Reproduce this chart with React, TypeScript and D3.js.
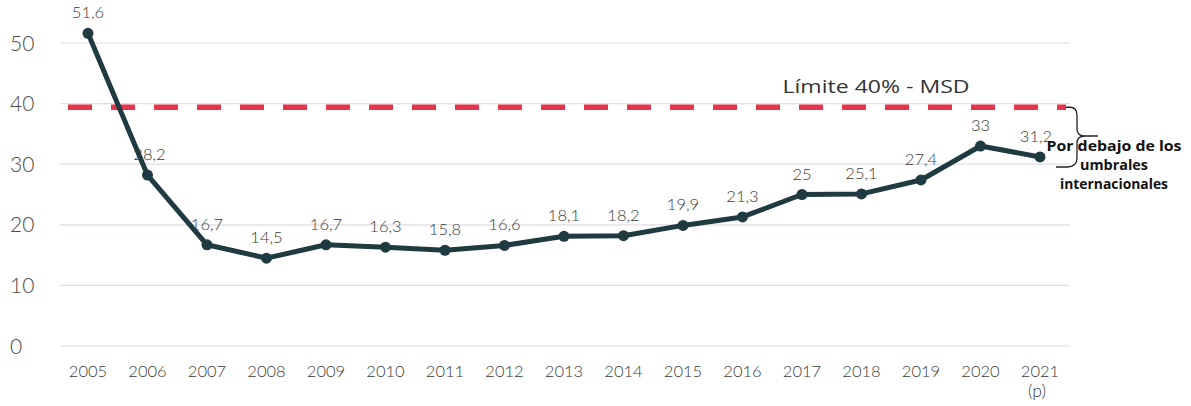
import React from "react";
import * as d3 from "d3";

const years = [2005, 2006, 2007, 2008, 2009, 2010, 2011, 2012, 2013, 2014, 2015, 2016, 2017, 2018, 2019, 2020, 2021];
const yearLabels = ["2005", "2006", "2007", "2008", "2009", "2010", "2011", "2012", "2013", "2014", "2015", "2016", "2017", "2018", "2019", "2020", "2021"];
const values = [51.6, 28.2, 16.7, 14.5, 16.7, 16.3, 15.8, 16.6, 18.1, 18.2, 19.9, 21.3, 25, 25.1, 27.4, 33, 31.2];
const valueLabels = ["51,6", "28,2", "16,7", "14,5", "16,7", "16,3", "15,8", "16,6", "18,1", "18,2", "19,9", "21,3", "25", "25,1", "27,4", "33", "31,2"];
const yTicks = [0, 10, 20, 30, 40, 50];
const limitValue = 39.4;
const limitLabel = "Límite 40% - MSD";
const noteLines = ["Por debajo de los", "umbrales", "internacionales"];

export default function App() {
  const W = 1191, H = 406;
  const x = d3.scaleLinear().domain([2005, 2021]).range([88, 1040]);
  const y = d3.scaleLinear().domain([0, 50]).range([346, 43]);
  const line = d3.line<number>().x((_, i) => x(years[i])).y((v) => y(v));
  const font = "Lato, 'Open Sans', sans-serif";
  const ly = y(limitValue);
  return (
    <svg width={W} height={H} style={{ position: "absolute", left: 0, top: 0, background: "#fff" }}>
      {yTicks.map((t) => (
        <g key={t}>
          <line x1={60} x2={1070} y1={y(t)} y2={y(t)} stroke="#e2dce4" strokeWidth={1.2} />
          <text x={10} y={y(t)} dy="0.36em" fontSize={21} fontWeight={300} fontFamily={font} fill="#4a4a4a">{t}</text>
        </g>
      ))}
      <line x1={68} x2={1066} y1={ly} y2={ly} stroke="#e5344d" strokeWidth={5.5} strokeDasharray="24 19" />
      <text x={876} y={ly - 14} textAnchor="middle" fontSize={19} fontFamily="'Open Sans', sans-serif" fill="#333" textLength={187} lengthAdjust="spacingAndGlyphs">{limitLabel}</text>
      <path d={line(values) || ""} fill="none" stroke="#1f3a40" strokeWidth={5} strokeLinejoin="round" />
      {values.map((v, i) => (
        <circle key={i} cx={x(years[i])} cy={y(v)} r={5.5} fill="#1f3a40" />
      ))}
      {values.map((v, i) => (
        <text key={"l" + i} x={x(years[i]) + (i === 1 ? 2 : i === 16 ? -4 : 0)} y={y(v) - 15} textAnchor="middle" fontSize={16.5} fontWeight={300} fontFamily={font} fill="#3a3a3a">{valueLabels[i]}</text>
      ))}
      {yearLabels.map((s, i) => (
        <text key={"x" + i} x={x(years[i])} y={377} textAnchor="middle" fontSize={16.5} fontWeight={300} fontFamily={font} fill="#3a3a3a">{s}</text>
      ))}
      <text x={x(2021) - 3} y={397} textAnchor="middle" fontSize={17.5} fontWeight={300} fontFamily={font} fill="#3a3a3a">(p)</text>
      <path d={`M1066,${ly} L1070,${ly} Q1077,${ly} 1077,${ly + 8} L1077,129 Q1077,136 1085,136 L1098,136 M1085,136 Q1077,136 1077,143 L1077,158 Q1077,167 1067,167 L1056,167`} fill="none" stroke="#222" strokeWidth={1.3} />
      {noteLines.map((s, i) => (
        <text key={"n" + i} x={1114} y={151 + i * 19} textAnchor="middle" fontSize={13.5} fontWeight="bold" fontFamily="'Open Sans', sans-serif" fill="#111" textLength={i === 0 ? 135 : i === 1 ? 68 : 108} lengthAdjust="spacingAndGlyphs">{s}</text>
      ))}
    </svg>
  );
}
